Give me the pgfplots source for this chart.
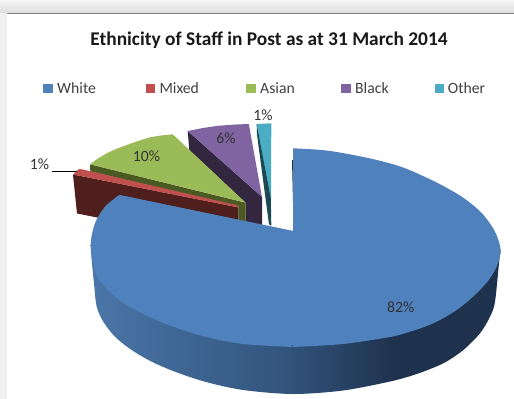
\documentclass[border=0pt]{standalone}
\usepackage{fontspec}
\setmainfont{Carlito}
\usepackage{pgfplots}
\pgfplotsset{compat=1.18}
\definecolor{whiteTop}{HTML}{4F81BD}
\definecolor{mixedTop}{HTML}{C0504D}
\definecolor{mixedSide}{HTML}{4F1F1D}
\definecolor{asianTop}{HTML}{9BBB59}
\definecolor{asianSide}{HTML}{4B5A22}
\definecolor{blackTop}{HTML}{8064A2}
\definecolor{blackSide}{HTML}{33263F}
\definecolor{otherTop}{HTML}{4BACC6}
\definecolor{otherSide}{HTML}{1A4A54}
\definecolor{labelInk}{HTML}{404040}
\definecolor{sideA}{RGB}{74,118,168}
\definecolor{sideB}{RGB}{50,84,124}
\definecolor{sideC}{RGB}{30,50,78}
\pgfdeclarehorizontalshading{rimfade}{100bp}{color(0bp)=(sideA); color(25bp)=(sideA); color(49bp)=(sideB); color(62bp)=(sideC); color(100bp)=(sideC)}
\pgfdeclareverticalshading{topband}{100bp}{color(0bp)=(black!13); color(25bp)=(black!13); color(75bp)=(black!4); color(100bp)=(black!4)}
\begin{document}
\begin{tikzpicture}
\begin{axis}[
  hide axis, scale only axis, width=514bp, height=399bp,
  xmin=0, xmax=514, ymin=0, ymax=399, y dir=reverse,
  no markers, every axis plot/.append style={line width=0pt},
]
% page background and window frame
\addplot[fill=white, draw=none] coordinates {(0,0)(514,0)(514,399)(0,399)} -- cycle;
\addplot[fill=black!6, draw=none] coordinates {(0,0)(7,0)(7,399)(0,399)} -- cycle;
\addplot[shading=topband, draw=none] coordinates {(0,0)(514,0)(514,13)(0,13)} -- cycle;
\addplot[draw=black!50, line width=1pt] coordinates {(7,13.5)(514,13.5)};

% legend swatches
\addplot[fill=whiteTop, draw=none] coordinates {(43.3,83.5)(52.6,83.5)(52.6,93)(43.3,93)} -- cycle;
\addplot[fill=mixedTop, draw=none] coordinates {(146.3,83.5)(155.4,83.5)(155.4,93)(146.3,93)} -- cycle;
\addplot[fill=asianTop, draw=none] coordinates {(246.3,83.5)(255.7,83.5)(255.7,93)(246.3,93)} -- cycle;
\addplot[fill=blackTop, draw=none] coordinates {(341.3,83.5)(350.7,83.5)(350.7,93)(341.3,93)} -- cycle;
\addplot[fill=otherTop, draw=none] coordinates {(435,83.5)(444,83.5)(444,93)(435,93)} -- cycle;

% Other, 1%
\addplot[fill=otherTop, draw=none] coordinates {(256.7,124)(271.3,123.3)(271,200)(270.7,198)} -- cycle;
\addplot[fill=otherSide, draw=none] coordinates {(256.7,124)(256.9,134)(269,224.3)(271.3,225.7)(270.8,198)} -- cycle;
% Black, 6%
\addplot[fill=blackSide, draw=none] coordinates {(187.7,131)(262,197)(262,226)(245.7,222)(245.7,203)(189.3,150)} -- cycle;
\addplot[fill=blackTop, draw=none] coordinates {(187.7,131)(203,128)(218,125.8)(234,124.6)(248.8,124)(262,197)} -- cycle;
% Asian, 10%
\addplot[fill=asianSide, draw=none] coordinates {(90,164.3)(90.3,171.5)(238.3,206.5)(238.3,222)(245.7,222)(245.7,202.7)} -- cycle;
\addplot[fill=asianTop, draw=none] coordinates {(90,164.3)(98,158.5)(106.7,153.3)(116,149)(126.7,145)(138,141)(150,137.3)(161,135.5)(172.7,134.3)(245.7,202.7)} -- cycle;
% Mixed, 1%
\addplot[fill=mixedSide, draw=none] coordinates {(73,174.5)(77,213.5)(120,222)(238.3,225)(238.3,207.3)} -- cycle;
\addplot[fill=mixedTop, draw=none] coordinates {(73,174.5)(79,169)(82.7,169.5)(238.3,205.5)(238.3,207.5)} -- cycle;

% White, 82%: rim, then the top face in pieces
\addplot[smooth, shading=rimfade, draw=none] coordinates {
  (90.7,245)(91.7,260)(94.3,286.7)(96.7,306.7)(103.3,321.7)(115,336.7)(131.7,350)(151.7,361.7)(175,371.7)(205,381.7)(243,390)
  (293,394)(343,390.5)(390,381.5)(416.7,374)(443.3,363.3)(463.3,350)(480,333.3)(490,316.7)(495,301.7)(499.3,260)(500.7,250)} -- cycle;
\addplot[fill=sideC, draw=none] coordinates {(292,160)(293.2,160)(295,231.5)(293.7,231.5)} -- cycle;
\addplot[smooth, fill=whiteTop, draw=none] coordinates {
  (293,148.3)(328,150.7)(368,158)(401.7,167)(435,181.7)(461.7,196.7)(481.7,213)(495,231.7)(500.7,250)
  (497.3,265)(490,278.3)(476.7,293.3)(456.7,310)(433.3,323.3)(410,331.7)(390,337)(343,344)(293,347)} -- cycle;
\addplot[smooth, fill=whiteTop, draw=none] coordinates {
  (293,347)(243,344)(205,336.7)(168.3,325)(141.7,313.3)(121.7,301.7)(105,286.7)(95,271.7)(90.7,245)(95,223.3)(105,206.7)(119.3,195)} -- cycle;
\addplot[fill=whiteTop, draw=none] coordinates {(119.3,195)(294,231.3)(295,347)} -- cycle;
\addplot[fill=whiteTop, draw=none] coordinates {(119.3,195)(294,231.3)(296,231.3)(296,345)(285,345)(108,212)} -- cycle;

% leader line of the smallest left slice
\addplot[draw=black, line width=0.8pt] coordinates {(52,171.5)(77,171.5)};

% title, legend text and slice labels
\node[anchor=base, font=\fontsize{19.4bp}{21bp}\selectfont\bfseries, text=black!90] at (axis cs:269,45.5) {Ethnicity of Staff in Post as at 31 March 2014};
\begin{scope}[every node/.style={anchor=base west, inner sep=0pt, text=labelInk, font=\fontsize{15.7bp}{18bp}\selectfont}]
\node at (axis cs:57,93) {White};
\node at (axis cs:159.3,93) {Mixed};
\node at (axis cs:260,93) {Asian};
\node at (axis cs:355,93) {Black};
\node at (axis cs:447.7,93) {Other};
\end{scope}
\begin{scope}[every node/.style={anchor=center, inner sep=0pt, text=labelInk!80!black, font=\fontsize{15.7bp}{18bp}\selectfont}]
\node at (axis cs:400.7,307) {82\%};
\node at (axis cs:146.5,156) {10\%};
\node at (axis cs:226,138) {6\%};
\node at (axis cs:263,115) {1\%};
\node at (axis cs:39.5,164) {1\%};
\end{scope}
\end{axis}
\end{tikzpicture}
\end{document}
